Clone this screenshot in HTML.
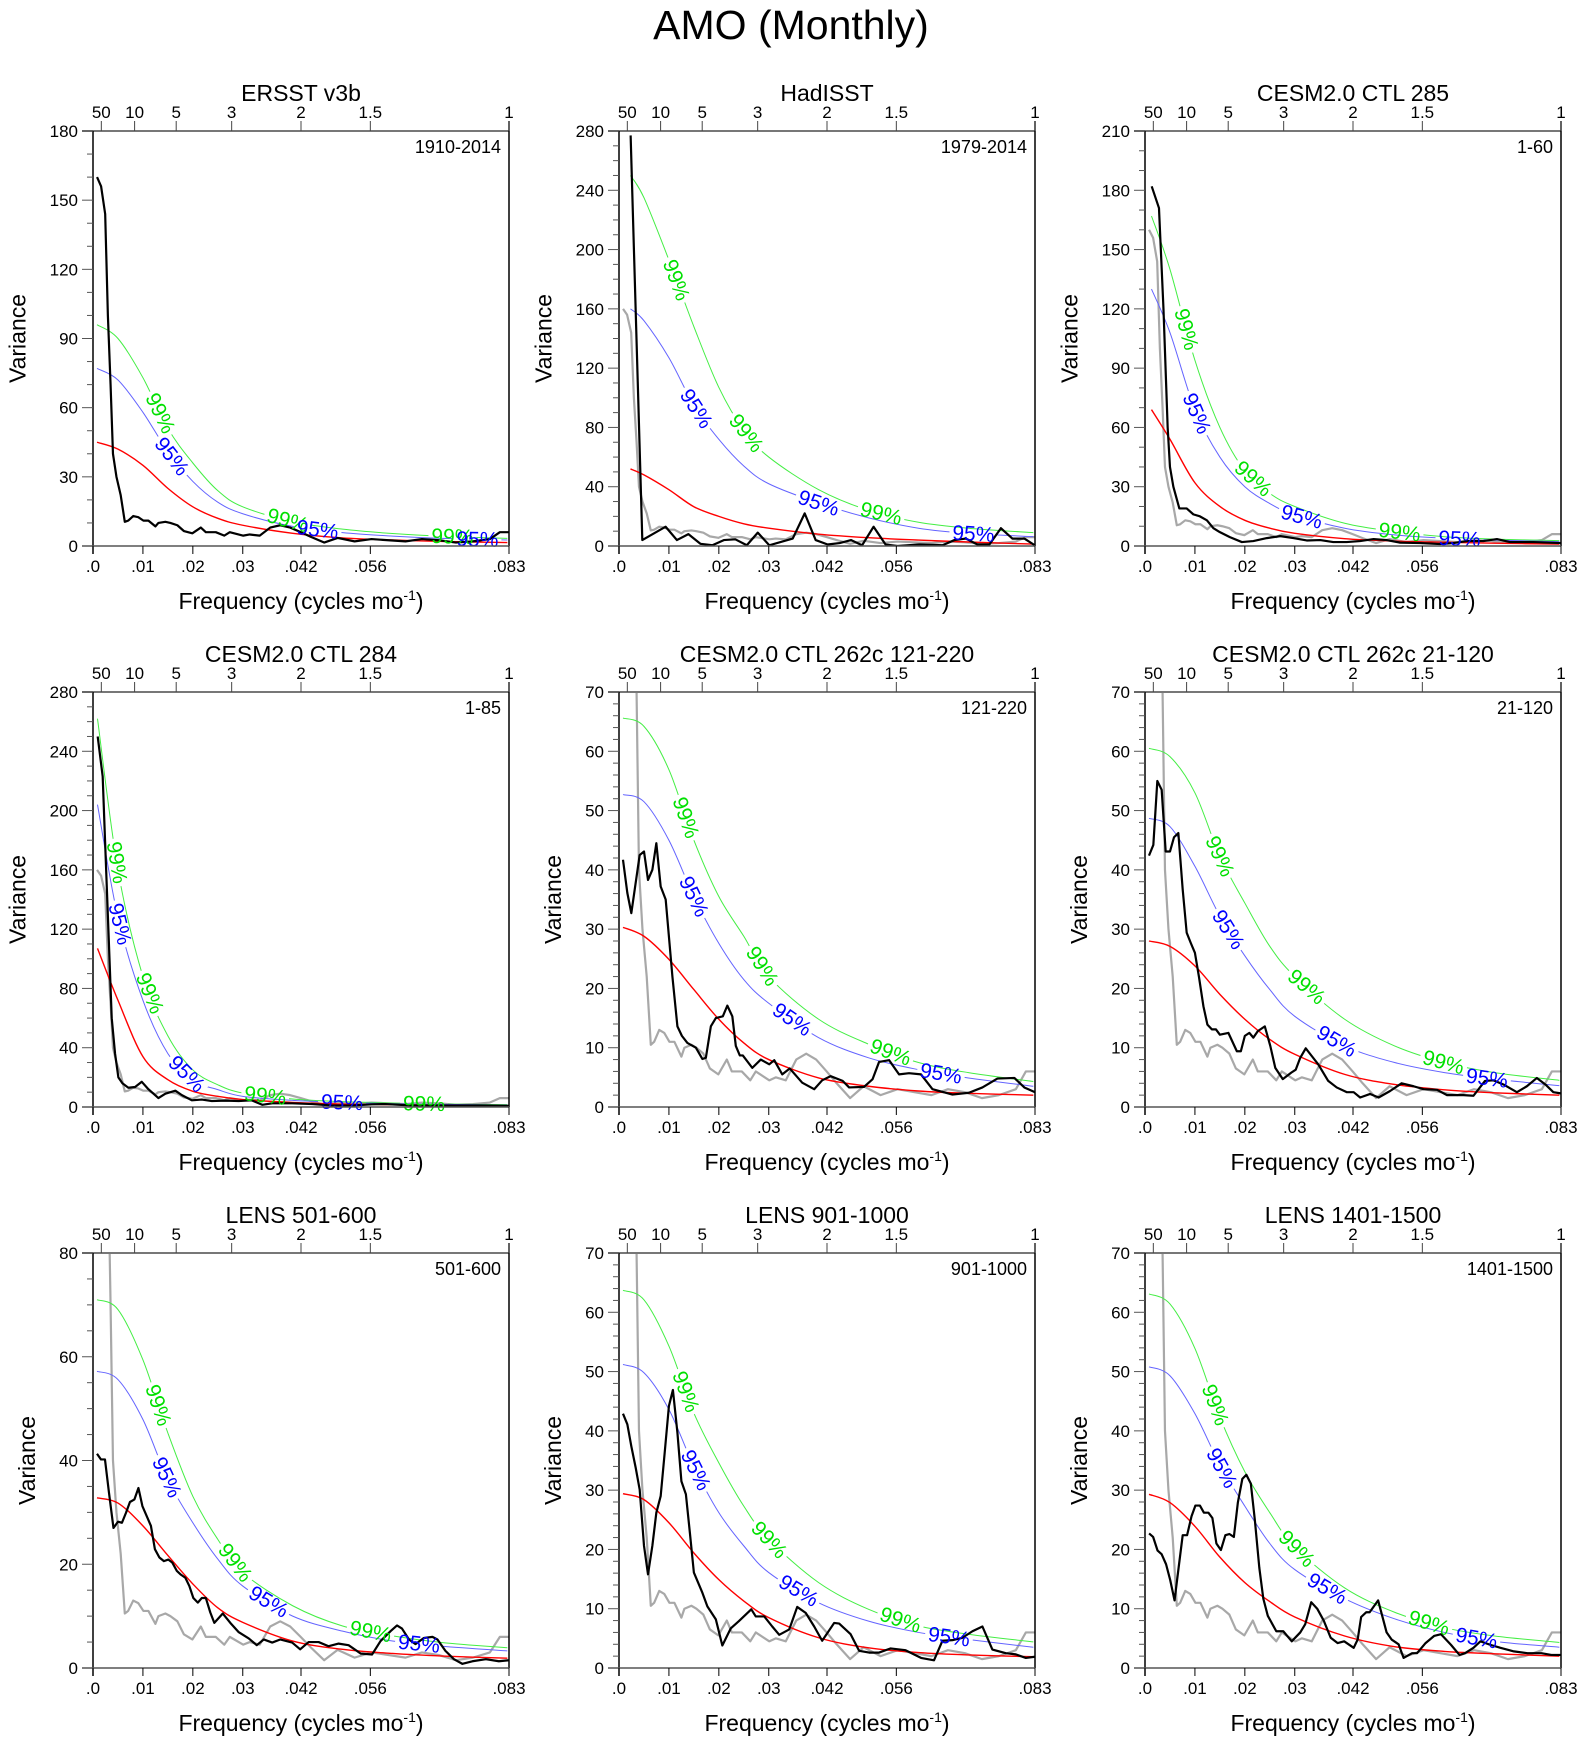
<!DOCTYPE html>
<html><head><meta charset="utf-8">
<style>
html,body{margin:0;padding:0;background:#fff;}
svg{display:block;font-family:"Liberation Sans",Arial,sans-serif;}
</style></head>
<body>
<svg id="chart" width="1582" height="1738" viewBox="0 0 1582 1738" xmlns="http://www.w3.org/2000/svg">
<rect x="0" y="0" width="1582" height="1738" fill="#fff"/>
<text x="791" y="39" font-size="41" text-anchor="middle">AMO (Monthly)</text>
</svg>
<script>
// ---------- shared axis data ----------
const xTickVals = [0, 0.01, 0.02, 0.03, 1/24, 1/18, 1/12];
const xTickLabels = [".0", ".01", ".02", ".03", ".042", ".056", ".083"];
const periodYears = [50, 10, 5, 3, 2, 1.5, 1];
const periodLabels = ["50", "10", "5", "3", "2", "1.5", "1"];
const curveFreqs = [0.005, 0.01, 0.015, 0.02, 0.025, 0.03, 0.04, 0.05, 0.06, 0.07, 0.083];

// ---------- panel meta ----------
const titles = ["ERSST v3b","HadISST","CESM2.0 CTL 285","CESM2.0 CTL 284","CESM2.0 CTL 262c 121-220","CESM2.0 CTL 262c 21-120","LENS 501-600","LENS 901-1000","LENS 1401-1500"];
const periodText = ["1910-2014","1979-2014","1-60","1-85","121-220","21-120","501-600","901-1000","1401-1500"];
const yMaxes = [180,280,210,280,70,70,80,70,70];
const yMajor = [30,40,30,40,10,10,20,10,10];
const yMinor = [10,10,10,10,2,2,5,2,2];
const curveStart = [0.0008,0.0023,0.0013,0.0009,0.0008,0.0008,0.0008,0.0008,0.0008];

// ---------- spectra (black) ----------
const f_ersst = [0.00081,0.00162,0.00244,0.00298,0.00352,0.004,0.0047,0.00555,0.00637,0.00704,0.00806,0.00907,0.0101,0.0111,0.0125,0.0131,0.0145,0.0155,0.0169,0.0182,0.0199,0.0216,0.0226,0.0246,0.0263,0.0274,0.0301,0.0314,0.0334,0.0355,0.0375,0.0395,0.0416,0.0436,0.0463,0.049,0.0524,0.0558,0.0592,0.0626,0.0659,0.0693,0.0727,0.0761,0.0795,0.0815,0.0833];
const v_ersst = [160,156,144,100,70,40,30,22,10.5,11,13,12.5,11,11,8.5,10,10.5,10,9,6.5,5.5,8,6,6,4.5,6,4.5,5,4.5,8,9,8,6,4,1.5,3.5,2,3,2.5,2,3,2.5,1.5,2,3,6,6];

const f_had = [0.00233,0.00467,0.00934,0.0116,0.0139,0.0163,0.0187,0.021,0.0233,0.0256,0.0278,0.0301,0.0348,0.0372,0.0394,0.0418,0.0442,0.0465,0.0487,0.051,0.0534,0.0558,0.0602,0.0648,0.0672,0.0695,0.0718,0.0742,0.0765,0.0788,0.0812,0.0833];
const v_had = [277,4,13,4,8,1.5,0.5,4,4.5,0.5,9,0.5,5,22,4,1,2,4,0.5,13,1,0,1,0.5,4,5,1,1,12,5,5,0.5];

const f_c285 = [0.00134,0.0028,0.0037,0.00454,0.005,0.00568,0.00688,0.00835,0.00969,0.011,0.0124,0.0137,0.015,0.017,0.0194,0.0217,0.0244,0.0271,0.0297,0.0324,0.0351,0.0377,0.0404,0.0431,0.0458,0.0484,0.0511,0.0551,0.0591,0.0618,0.0645,0.0678,0.0705,0.0731,0.0778,0.0833];
const v_c285 = [182,171,120,60,40,30,19,19,16,15,13,9,7,4.5,2,2.5,4,5,4,2.8,3,2,2,2.5,3.5,3,1.7,1.5,1,1.5,2.5,2.5,3.5,2,2,1.5];

const f_c284 = [0.00094,0.00194,0.00241,0.00308,0.00375,0.00442,0.00508,0.00589,0.00709,0.00843,0.00977,0.0111,0.0131,0.0145,0.0165,0.0178,0.0198,0.0218,0.0238,0.0265,0.0292,0.0318,0.0339,0.0359,0.0399,0.0439,0.0479,0.0519,0.0559,0.0586,0.0613,0.064,0.0706,0.0773,0.0833];
const v_c284 = [250,223,180,120,60,36,20,16,13,13.5,17,12,6,9,11,8,4.5,5,4,4.3,4,4.5,1.5,2.5,2.5,2,1,1,1.8,2,1.5,1,1,1,0.8];

const f_c262a = [0.0008,0.00167,0.00247,0.00334,0.00414,0.00501,0.00581,0.00668,0.00748,0.00835,0.00935,0.0107,0.0117,0.0126,0.0137,0.0154,0.0167,0.0174,0.0184,0.0194,0.0208,0.0217,0.0227,0.0234,0.0242,0.0248,0.0267,0.0284,0.0301,0.0311,0.0327,0.0342,0.0367,0.0391,0.0407,0.0424,0.0448,0.0461,0.0491,0.0508,0.0521,0.0541,0.0561,0.0581,0.0605,0.0628,0.0668,0.0701,0.0728,0.0758,0.0792,0.0812,0.0833];
const v_c262a = [41.7,36.1,32.7,37.8,42.5,43.1,38.3,40,44.5,37.2,35,22,13.6,12,10.8,10,8.1,8.3,13.6,15,15.3,17.1,15.3,10.3,8.7,8.7,6.6,8,7.2,7.9,5.5,6.5,4.1,3,4.5,5.2,4.4,3.3,3.4,4.7,7.6,7.9,5.5,5.7,5.5,3,2.1,2.4,3.3,4.8,4.9,3.3,2.5];

const f_c262b = [0.0008,0.00167,0.00247,0.00334,0.00414,0.00501,0.00581,0.00668,0.00755,0.00835,0.00915,0.01,0.0108,0.0117,0.0125,0.0134,0.0142,0.015,0.0167,0.0184,0.0192,0.02,0.0209,0.0217,0.0226,0.024,0.0251,0.0261,0.0276,0.0293,0.0302,0.0311,0.0322,0.0334,0.0347,0.0367,0.0384,0.0404,0.0418,0.0431,0.0451,0.0468,0.0491,0.0514,0.0538,0.0558,0.0585,0.0605,0.0638,0.0658,0.0681,0.0698,0.0718,0.0745,0.0765,0.0785,0.0802,0.0818,0.0833];
const v_c262b = [42.4,44.2,55,53.5,43.1,43.1,45.5,46.2,36.7,29.4,27.7,26,22,17,13.9,13.1,13.1,12.2,12.5,9.4,9.4,12,12.5,11.7,12.8,13.6,10.3,6.6,4.7,5.8,6.3,8.3,9.9,8.6,7.2,4.4,3.3,2.5,2.5,1.6,2.2,1.6,2.7,4,3.5,3,2.9,2,2,1.9,4.4,4.5,3.8,2.5,3.5,4.9,3.8,2.5,2.3];

const f_l501 = [0.0008,0.0016,0.0024,0.0032,0.0041,0.005,0.0058,0.0066,0.0074,0.0083,0.0091,0.0099,0.0108,0.0116,0.0124,0.0133,0.0142,0.0151,0.0159,0.0168,0.0176,0.0185,0.0193,0.0201,0.021,0.0218,0.0226,0.0235,0.0243,0.026,0.0275,0.0292,0.0312,0.0328,0.0342,0.0359,0.0375,0.0399,0.0415,0.0432,0.0452,0.0472,0.0492,0.0512,0.0536,0.0559,0.0576,0.0596,0.0609,0.0619,0.0633,0.0646,0.0663,0.068,0.069,0.0706,0.0723,0.074,0.076,0.0787,0.0813,0.0833];
const v_l501 = [41.3,40.2,40.2,33.8,27,28.2,28,29.9,32,32.5,34.7,31.2,29.2,27.4,22.9,21.3,20.6,20.9,20.3,18.7,18,17.4,15.8,13.5,12.6,13.5,13.5,10.7,8.7,10.5,8.7,6.9,5.7,4.4,5.5,4.9,5.5,4.9,3.6,5,5,4.2,4.7,4.4,2.8,2.6,5.2,7.1,8.2,7.6,5.5,4.6,5.8,6,5.5,3.3,1.7,0.8,1.3,1.7,1.3,1.5];

const f_l901 = [0.0008,0.00167,0.00247,0.00334,0.00414,0.00501,0.00581,0.00668,0.00748,0.00835,0.00915,0.01,0.0108,0.0117,0.0125,0.0134,0.0142,0.015,0.0167,0.0177,0.0194,0.0207,0.0224,0.024,0.0265,0.0274,0.0291,0.0307,0.0321,0.0341,0.0357,0.0374,0.0391,0.0407,0.0431,0.0441,0.0464,0.0481,0.0501,0.0521,0.0544,0.0574,0.0605,0.0631,0.0648,0.0668,0.0688,0.0708,0.0728,0.0748,0.0775,0.0795,0.0815,0.0833];
const v_l901 = [42.9,41.1,37.4,33.8,30.1,20.6,15.8,20.6,26.2,29,36.3,44.2,46.9,39.7,31.5,29.3,22.8,16.1,12.7,10.4,8.2,3.8,6.7,7.9,9.9,8.7,8.7,7,5.6,6.5,10.3,9.3,7,4.6,7.6,7.5,5.7,2.9,2.6,2.6,3.3,3,1.7,1.3,4.6,4.7,5.1,6.2,7,3.1,2.5,2.3,1.7,1.9];

const f_l1401 = [0.00082,0.00163,0.00252,0.00333,0.00422,0.00503,0.00592,0.00673,0.00755,0.00843,0.00932,0.0101,0.011,0.0118,0.0127,0.0135,0.0143,0.0152,0.0161,0.0169,0.0178,0.0186,0.0195,0.0203,0.0212,0.022,0.0229,0.0237,0.0246,0.0263,0.0277,0.0294,0.0311,0.0321,0.0333,0.0345,0.0358,0.0372,0.0386,0.0399,0.0418,0.0426,0.0433,0.0443,0.045,0.0467,0.0484,0.0494,0.0508,0.0518,0.0535,0.0545,0.0562,0.0579,0.0593,0.0613,0.063,0.0641,0.0658,0.0672,0.0692,0.0712,0.0739,0.0766,0.0794,0.0814,0.0833];
const v_l1401 = [22.7,22.1,19.8,19.2,17.5,14.9,11.4,16.9,22.4,22.4,25.6,27.4,27.4,26.2,26.2,25.3,21,19.9,22.4,22.6,22.1,27.9,31.9,32.6,31.1,25,16.9,11.7,8.8,6.2,6.2,4.5,6,7.4,11.1,10,8,5.1,4.2,4.5,3.4,4.8,8.6,9.4,9.4,11.4,6,4.8,4,1.7,2.5,2.5,4.2,5.4,5.7,3.9,2.2,2.5,3.4,4.5,3.9,3.4,2.8,2.5,2.5,2.2,2.2];

// ---------- red noise / significance curves (first value at curveStart, rest at curveFreqs) ----------
const red1 = [45,42,35,25,17,12,9,5.5,3.5,2.6,2,1.5];
const s95_1 = [77,72,58,41,28,19,14,8.5,5.8,4.3,3.3,2.6];
const s99_1 = [96,90,73,51,36,24,17,10.5,7.3,5.4,4.2,3.3];
const red2 = [52,48,38,26.5,20,15,12,8,5.6,4,2.7,1.3];
const s95_2 = [160,152,127,95,72,54,42,29,19,12,8.5,6.3];
const s99_2 = [250,235,193,148,107,78,60,38,24,16,12,9];
const red3 = [69,54,32,20,13,9,6.4,3.7,2.5,1.9,1.4,1];
const s95_3 = [130,108,69,45,30,21.5,15.7,9,5.6,3.9,3,2.2];
const s99_3 = [167,140,94,60,38,26.6,20,11.5,7.3,4.7,3.5,2.7];
const red4 = [107,72,34,18.4,10.6,7.2,5,3.1,2,1.6,1.2,0.9];
const s95_4 = [204,128,72,36,18,11.7,7.2,4.5,3.1,2.2,1.8,1.3];
const s99_4 = [262,160,88,48,25,15,9.4,5.4,3.6,2.7,2,1.6];
const red5 = [30.3,28.8,24.9,19.8,14.8,10.8,8,4.9,3.5,2.7,2.3,2];
const s95_5 = [52.7,51.5,45,35.5,27.6,21.5,17.5,11.7,8.3,6.3,4.9,3.5];
const s99_5 = [65.6,64.2,56.9,45,35.5,28.8,22,14.8,10.6,7.5,5.8,4.3];
const red6 = [28,27.1,23.8,19,14.8,11.4,8.9,5.5,3.8,2.9,2.4,2];
const s95_6 = [48.7,47.3,40.6,32.2,25.5,19.8,15.3,10.3,7.5,5.8,4.7,3.6];
const s99_6 = [60.5,59.1,53,42.3,34.4,27.1,22,14.8,10.3,7.5,5.8,4.5];
const red7 = [32.8,31.8,27.4,21.7,16.2,11.6,8.8,5.2,3.6,2.8,2.3,1.9];
const s95_7 = [57.2,55.6,47.9,36.3,28,21,15.8,10,7.1,5.2,4.2,3.3];
const s99_7 = [71,69.1,59.4,45.3,33.1,24.8,18.4,12,8.1,6.2,4.9,3.9];
const red8 = [29.4,28.4,24.5,19.4,14.9,11.3,8.5,5.1,3.4,2.6,2.2,1.9];
const s95_8 = [51.2,49.8,43.6,34,26.2,20.6,16.1,11,7.9,6,4.8,3.5];
const s99_8 = [63.7,62.1,54.3,43,34.6,27.3,21.7,14.4,9.9,7.1,5.7,4.4];
const red9 = [29.3,27.9,23.9,18.7,14.4,11.2,8.6,5.4,3.6,2.8,2.4,2];
const s95_9 = [50.8,49.3,42.9,34.3,27.3,21,16.6,11.7,8.3,6,4.5,3.5];
const s99_9 = [63.1,61.4,53.9,42.3,33.1,26.2,20.4,13.5,9.4,6.8,5.4,4.3];

// label positions (frequency) on contour curves
const lab99 = [[0.0135,0.039,0.072],[0.0115,0.0255,0.0525],[0.0083,0.0217,0.051],[0.0048,0.0114,0.0345,0.0663],[0.0134,0.0287,0.0544],[0.015,0.0324,0.0598],[0.0131,0.0285,0.0556],[0.0134,0.0301,0.0564],[0.0141,0.0304,0.0569]];
const lab95 = [[0.0158,0.045,0.077],[0.0155,0.040,0.071],[0.0104,0.0314,0.063],[0.0054,0.0188,0.0499],[0.015,0.0347,0.0645],[0.0167,0.0384,0.0685],[0.0148,0.0352,0.0653],[0.0154,0.036,0.0661],[0.0154,0.0365,0.0664]];

const blackF = [f_ersst,f_had,f_c285,f_c284,f_c262a,f_c262b,f_l501,f_l901,f_l1401];
const blackV = [v_ersst,v_had,v_c285,v_c284,v_c262a,v_c262b,v_l501,v_l901,v_l1401];
const reds = [red1,red2,red3,red4,red5,red6,red7,red8,red9];
const s95s = [s95_1,s95_2,s95_3,s95_4,s95_5,s95_6,s95_7,s95_8,s95_9];
const s99s = [s99_1,s99_2,s99_3,s99_4,s99_5,s99_6,s99_7,s99_8,s99_9];

// ---------- drawing ----------
const NS = "http://www.w3.org/2000/svg";
const svg = document.getElementById("chart");
const colLeft = [93, 619, 1145];
const rowTop = [131, 692, 1253];
const PW = 416, PH = 415, XMAX = 1/12;

function mk(tag, attrs, parent) {
  const e = document.createElementNS(NS, tag);
  for (const k in attrs) e.setAttribute(k, attrs[k]);
  (parent || svg).appendChild(e);
  return e;
}
function catmull(pts) {
  let d = "M" + pts[0][0].toFixed(2) + "," + pts[0][1].toFixed(2);
  for (let i = 0; i < pts.length - 1; i++) {
    const p0 = pts[Math.max(0, i - 1)], p1 = pts[i], p2 = pts[i + 1], p3 = pts[Math.min(pts.length - 1, i + 2)];
    const c1x = p1[0] + (p2[0] - p0[0]) / 6, c1y = p1[1] + (p2[1] - p0[1]) / 6;
    const c2x = p2[0] - (p3[0] - p1[0]) / 6, c2y = p2[1] - (p3[1] - p1[1]) / 6;
    d += "C" + c1x.toFixed(2) + "," + c1y.toFixed(2) + " " + c2x.toFixed(2) + "," + c2y.toFixed(2) + " " + p2[0].toFixed(2) + "," + p2[1].toFixed(2);
  }
  return d;
}
function interp(fs, vs, f) {
  for (let i = 0; i < fs.length - 1; i++) {
    if (f >= fs[i] && f <= fs[i + 1]) {
      const t = (f - fs[i]) / (fs[i + 1] - fs[i]);
      return vs[i] + t * (vs[i + 1] - vs[i]);
    }
  }
  return vs[vs.length - 1];
}

const defs = mk("defs", {});

for (let p = 0; p < 9; p++) {
  const L = colLeft[p % 3], T = rowTop[Math.floor(p / 3)], R = L + PW, B = T + PH;
  const ymax = yMaxes[p];
  const xs = f => L + f / XMAX * PW;
  const ys = v => B - v / ymax * PH;
  const g = mk("g", {});
  
  

  const clip = mk("clipPath", { id: "clip" + p }, defs);
  mk("rect", { x: L, y: T, width: PW, height: PH }, clip);

  const cF = [curveStart[p]].concat(curveFreqs);
  const curvePts = vals => cF.map((f, i) => [xs(f), ys(vals[i])]);

  function labelInfo(vals, f) {
    const x = xs(f), y = ys(interp(cF, vals, f));
    const df = 0.0015;
    const x1 = xs(f - df), y1 = ys(interp(cF, vals, Math.max(cF[0], f - df)));
    const x2 = xs(f + df), y2 = ys(interp(cF, vals, Math.min(XMAX, f + df)));
    let ang = Math.atan2(y2 - y1, x2 - x1) * 180 / Math.PI;
    return { x, y, ang };
  }
  function makeMask(id, vals, labs) {
    const m = mk("mask", { id: id, maskUnits: "userSpaceOnUse", x: 0, y: 0, width: 1582, height: 1738 }, defs);
    mk("rect", { x: 0, y: 0, width: 1582, height: 1738, fill: "#fff" }, m);
    labs.forEach(f => {
      const li = labelInfo(vals, f);
      mk("rect", { x: -24, y: -10, width: 48, height: 20, fill: "#000", transform: "translate(" + li.x + "," + li.y + ") rotate(" + li.ang + ")" }, m);
    });
  }
  makeMask("m99_" + p, s99s[p], lab99[p]);
  makeMask("m95_" + p, s95s[p], lab95[p]);

  const cg = mk("g", { "clip-path": "url(#clip" + p + ")" }, g);

  if (p > 0) {
    const gp = mk("path", { d: f_ersst.map((f, i) => (i ? "L" : "M") + xs(f).toFixed(2) + "," + ys(v_ersst[i]).toFixed(2)).join(""), fill: "none", stroke: "#a8a8a8", "stroke-width": 2.2, "stroke-linejoin": "round" }, cg);
    
    
  }
  const c99 = mk("path", { d: catmull(curvePts(s99s[p])), fill: "none", stroke: "#44ee44", "stroke-width": 1, mask: "url(#m99_" + p + ")" }, cg);
  
  
  const c95 = mk("path", { d: catmull(curvePts(s95s[p])), fill: "none", stroke: "#6464ff", "stroke-width": 1, mask: "url(#m95_" + p + ")" }, cg);
  
  
  const cr = mk("path", { d: catmull(curvePts(reds[p])), fill: "none", stroke: "#ff0000", "stroke-width": 1.4 }, cg);
  
  
  const bf = blackF[p], bv = blackV[p];
  const bp = mk("path", { d: bf.map((f, i) => (i ? "L" : "M") + xs(f).toFixed(2) + "," + ys(bv[i]).toFixed(2)).join(""), fill: "none", stroke: "#000", "stroke-width": 2.2, "stroke-linejoin": "round" }, cg);
  
  

  function drawLabels(vals, labs, txt, col, nm) {
    labs.forEach(f => {
      const li = labelInfo(vals, f);
      const t = mk("text", { x: 0, y: 7, "font-size": 21, fill: col, "text-anchor": "middle", transform: "translate(" + li.x.toFixed(1) + "," + li.y.toFixed(1) + ") rotate(" + li.ang.toFixed(1) + ")" }, g);
      t.textContent = txt;
      
      
    });
  }
  drawLabels(s99s[p], lab99[p], "99%", "#00e000", "label-99-percent");
  drawLabels(s95s[p], lab95[p], "95%", "#0000ff", "label-95-percent");

  mk("line", { x1: L - 11, y1: T, x2: R, y2: T, stroke: "#777", "stroke-width": 2 }, g);
  mk("line", { x1: R, y1: T - 10, x2: R, y2: B, stroke: "#000", "stroke-width": 1.5 }, g);
  mk("line", { x1: L, y1: T, x2: L, y2: B + 8, stroke: "#000", "stroke-width": 1.5 }, g);
  mk("line", { x1: L - 11, y1: B, x2: R, y2: B, stroke: "#555", "stroke-width": 1.5 }, g);

  for (let v = 0; v <= ymax + 1e-9; v += yMinor[p]) {
    const isMaj = Math.abs(v / yMajor[p] - Math.round(v / yMajor[p])) < 1e-6;
    mk("line", { x1: L - (isMaj ? 11 : 6), y1: ys(v), x2: L, y2: ys(v), stroke: "#555", "stroke-width": 1 }, g);
  }
  let maxLabW = 0;
  for (let v = 0; v <= ymax + 1e-9; v += yMajor[p]) {
    const t = mk("text", { x: L - 15, y: ys(v) + 6, "font-size": 17, "text-anchor": "end" }, g);
    t.textContent = String(v);
    
    
    maxLabW = Math.max(maxLabW, String(v).length * 9.5);
  }
  xTickVals.forEach((fv, i) => {
    mk("line", { x1: xs(fv), y1: B, x2: xs(fv), y2: B + 8, stroke: "#000", "stroke-width": 1 }, g);
    const t = mk("text", { x: xs(fv), y: B + 26, "font-size": 17, "text-anchor": "middle" }, g);
    t.textContent = xTickLabels[i];
    
    
  });
  periodYears.forEach((py, i) => {
    const fv = 1 / (12 * py);
    mk("line", { x1: xs(fv), y1: T - 10, x2: xs(fv), y2: T, stroke: "#444", "stroke-width": 1 }, g);
    const t = mk("text", { x: xs(fv), y: T - 13, "font-size": 17, "text-anchor": "middle" }, g);
    t.textContent = periodLabels[i];
    
    
  });
  const tt = mk("text", { x: L + PW / 2, y: T - 30, "font-size": 23, "text-anchor": "middle" }, g);
  tt.textContent = titles[p];
  
  
  const yr = mk("text", { x: R - 8, y: T + 22, "font-size": 18, "text-anchor": "end" }, g);
  yr.textContent = periodText[p];
  
  
  const xt = mk("text", { x: L + PW / 2, y: B + 63, "font-size": 23, "text-anchor": "middle" }, g);
  xt.textContent = "Frequency (cycles mo";
  const sup = mk("tspan", { dy: -9, "font-size": 14 }, xt);
  sup.textContent = "-1";
  const cl = mk("tspan", { dy: 9 }, xt);
  cl.textContent = ")";
  
  
  const yx = L - 15 - maxLabW - 24;
  const yt = mk("text", { x: yx, y: T + PH / 2, "font-size": 23, "text-anchor": "middle", transform: "rotate(-90 " + yx + " " + (T + PH / 2) + ")" }, g);
  yt.textContent = "Variance";
  
  
}
</script>
</body></html>
